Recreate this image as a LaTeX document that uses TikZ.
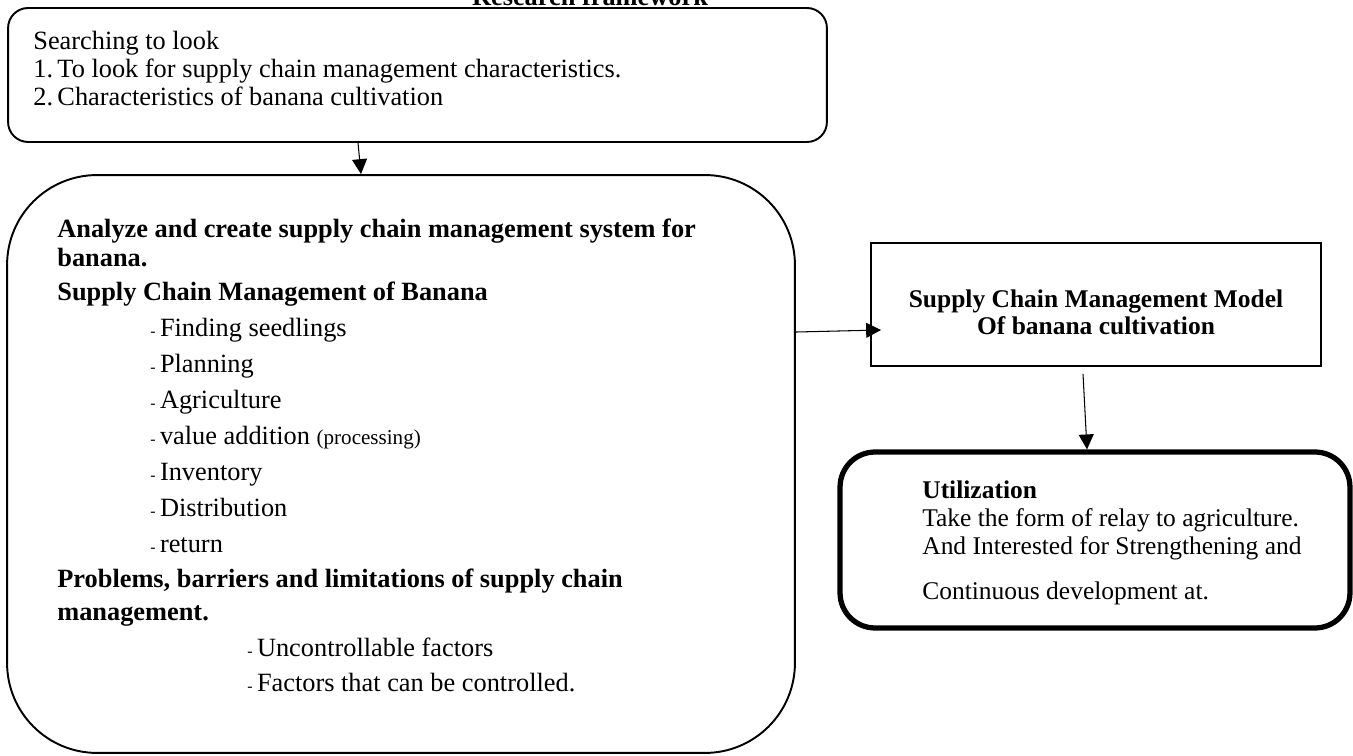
\documentclass[tikz,border=0pt]{standalone}
\usepackage{fontspec}
\setmainfont{Liberation Serif}
\usetikzlibrary{arrows.meta,positioning}

\tikzset{
  box/.style={draw,line width=1.1pt,inner sep=0pt,minimum width=#1},
  flow/.style={-{Triangle[length=8.5pt,width=8.5pt]},line width=0.6pt},
  reg/.style={anchor=base west,inner sep=0pt,font=\fontsize{15}{17}\selectfont},
  bld/.style={anchor=base west,inner sep=0pt,font=\fontsize{15}{17}\selectfont\bfseries},
  big/.style={anchor=base west,inner sep=0pt,font=\fontsize{14.5}{17}\selectfont}
}
\newcommand{\dash}{{\fontsize{9}{9}\selectfont -}\,}

\begin{document}
\begin{tikzpicture}[x=0.02cm,y=-0.02cm]
    \useasboundingbox (0,0) rectangle (1353,756);

    % title, cut at the top of the page
    \node[anchor=base,inner sep=0pt,font=\fontsize{15}{17}\selectfont\bfseries] (title) at (590,6) {Research framework};

    % boxes
    \node[box=16.38cm,minimum height=2.68cm,rounded corners=0.4cm] (search) at (417.5,75) {};
    \node[box=15.76cm,minimum height=11.56cm,rounded corners=1.8cm] (analyze) at (401,464) {};
    \node[box=9.0cm,minimum height=2.46cm] (model) at (1096,304.5) {};
    \node[box=10.2cm,minimum height=3.52cm,line width=3pt,rounded corners=0.7cm] (util) at (1095,540) {};

    % searching to look
    \node[reg] (s0) at (33,50) {Searching to look};
    \node[reg] (s1) at (33,78) {1.\,To look for supply chain management characteristics.};
    \node[reg] (s2) at (33,106) {2.\,Characteristics of banana cultivation};

    % analyze and create
    \node[bld] (a0) at (57,238) {Analyze and create supply chain management system for};
    \node[bld] (a1) at (57,267) {banana.};
    \node[bld] (a2) at (57,301) {Supply Chain Management of Banana};
    \foreach \t [count=\i] in {Finding seedlings,Planning,Agriculture,value addition {\fontsize{12}{14}\selectfont(processing)},Inventory,Distribution,return}
    {
        \node[reg] (item\i) at (150,337+35.9*\i-35.9) {\dash\t};
    }
    \node[bld] (p0) at (57,588) {Problems, barriers and limitations of supply chain};
    \node[bld] (p1) at (57,621) {management.};
    \node[reg] (f1) at (247,657) {\dash Uncontrollable factors};
    \node[reg] (f2) at (247,692) {\dash Factors that can be controlled.};

    % model
    \node[anchor=base,inner sep=0pt,font=\fontsize{14.5}{17}\selectfont\bfseries] (m0) at (1096,308) {Supply Chain Management Model};
    \node[anchor=base,inner sep=0pt,font=\fontsize{14.5}{17}\selectfont\bfseries] (m1) at (1096,335) {Of banana cultivation};

    % utilization
    \node[big,font=\fontsize{14.5}{17}\selectfont\bfseries] (u0) at (922,499) {Utilization};
    \node[big] (u1) at (922,527) {Take the form of relay to agriculture.};
    \node[big] (u2) at (922,555) {And Interested for Strengthening and};
    \node[big] (u3) at (922,600) {Continuous development at.};

    % arrows
    \draw[flow] ([xshift=-1.19cm]search.south) -- ([xshift=-0.8cm]analyze.north);
    \draw[flow] ([yshift=2.64cm]analyze.east) -- ([xshift=0.22cm,yshift=-0.51cm]model.west);
    \draw[flow] ([xshift=-0.26cm,yshift=-0.14cm]model.south) -- ([xshift=-0.16cm]util.north);
\end{tikzpicture}
\end{document}
